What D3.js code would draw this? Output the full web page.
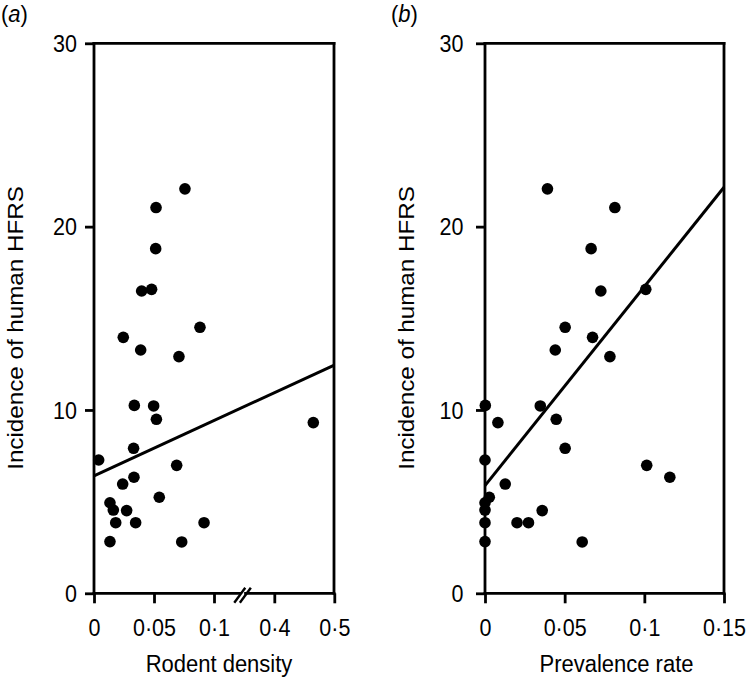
<!DOCTYPE html>
<html>
<head>
<meta charset="utf-8">
<script src="https://cdn.jsdelivr.net/npm/d3@7"></script>
<style>
  html, body { margin: 0; padding: 0; background: #fff; }
  svg { display: block; }
  text { font-family: "Liberation Sans", Arial, Helvetica, sans-serif; fill: #000; }
</style>
</head>
<body>
<script>
// ---------------- data ----------------
const yTicks = [0, 10, 20, 30];
const yTickLabels = ["0", "10", "20", "30"];

const xTicksA = [0, 0.05, 0.1, 0.4, 0.5];
const xTickLabelsA = ["0", "0·05", "0·1", "0·4", "0·5"];
const xTicksB = [0, 0.05, 0.1, 0.15];
const xTickLabelsB = ["0", "0·05", "0·1", "0·15"];

// incidence of human HFRS (same sites in both panels)
const incidence = [22.06, 21.04, 18.8, 16.49, 16.58, 14.51, 13.96, 13.27, 12.91,
  10.25, 10.22, 9.49, 9.31, 7.91, 7.27, 6.98, 6.33, 5.96, 5.24, 4.94, 4.54, 4.51,
  3.85, 3.85, 3.85, 2.82, 2.80];
// panel (a): rodent density
const rodentDensity = [0.0758, 0.0517, 0.0514, 0.0397, 0.048, 0.0883, 0.0244, 0.0389, 0.0708,
  0.0336, 0.0497, 0.052, 0.465, 0.033, 0.0039, 0.0689, 0.0333, 0.0239, 0.0544, 0.0133, 0.0161, 0.0272,
  0.0181, 0.0347, 0.0917, 0.0133, 0.0731];
// panel (b): prevalence rate
const prevalence = [0.0392, 0.0815, 0.0666, 0.0727, 0.1009, 0.0503, 0.0675, 0.0441, 0.0784,
  0.0002, 0.0347, 0.0447, 0.0081, 0.0503, 0.0, 0.1015, 0.116, 0.0127, 0.0027, 0.0, 0.0, 0.0359,
  0.0, 0.0201, 0.0273, 0.0, 0.061];

// fitted regression lines (end points)
const fitAx = [0, 0.5];
const fitAy = [6.4, 12.45];
const fitBx = [0, 0.15];
const fitBy = [5.87, 22.15];

const panelLabels = ["a", "b"];
const xTitles = ["Rodent density", "Prevalence rate"];
const yTitle = "Incidence of human HFRS";

// ---------------- layout ----------------
const W = 748, H = 678;
const plotTop = 43.3, plotBottom = 593.3;
const svg = d3.select("body").append("svg").attr("width", W).attr("height", H);

const y = d3.scaleLinear().domain([0, 30]).range([plotBottom, plotTop]);

const panels = [
  {
    left: 94, right: 334,
    x: d3.scaleLinear().domain([0, 0.1, 0.4, 0.5]).range([94, 214, 274.3, 334.3]),
    ticks: xTicksA, tickLabels: xTickLabelsA,
    xs: rodentDensity, fx: fitAx, fy: fitAy,
    label: panelLabels[0], labelX: 1, xTitle: xTitles[0], xTitleX: 219,
    yLabelOff: 17, yTitleX: 23, broken: true
  },
  {
    left: 485, right: 724,
    x: d3.scaleLinear().domain([0, 0.15]).range([485, 724]),
    ticks: xTicksB, tickLabels: xTickLabelsB,
    xs: prevalence, fx: fitBx, fy: fitBy,
    label: panelLabels[1], labelX: 391, xTitle: xTitles[1], xTitleX: 616.5,
    yLabelOff: 21.5, yTitleX: 414, broken: false
  }
];

const SW = 2.8;

panels.forEach(p => {
  const g = svg.append("g");

  // y axis (ticks + labels)
  const yAxis = d3.axisLeft(y).tickValues(yTicks)
    .tickFormat((d, i) => yTickLabels[i]).tickSize(9).tickPadding(0);
  const ya = g.append("g").attr("transform", `translate(${p.left},0)`).call(yAxis);
  ya.select(".domain").remove();
  ya.selectAll(".tick line").attr("stroke", "#000").attr("stroke-width", SW);
  ya.selectAll(".tick text")
    .attr("x", null).attr("dy", null)
    .attr("font-size", 21.5)
    .attr("text-anchor", "end")
    .attr("transform", `translate(${-p.yLabelOff},8.3) scale(1,1.1)`);

  // x axis (ticks + labels)
  const xAxis = d3.axisBottom(p.x).tickValues(p.ticks)
    .tickFormat((d, i) => p.tickLabels[i]).tickSize(10).tickPadding(0);
  const xa = g.append("g").attr("transform", `translate(0,${plotBottom})`).call(xAxis);
  xa.select(".domain").remove();
  xa.selectAll(".tick line").attr("stroke", "#000").attr("stroke-width", SW);
  xa.selectAll(".tick text")
    .attr("y", null).attr("dy", null)
    .attr("font-size", 21.5)
    .attr("text-anchor", "middle")
    .attr("transform", `translate(0,42.7) scale(1,1.1)`);
  svg.selectAll(".tick text").attr("fill", "#000");

  // frame
  const frame = g.append("g").attr("stroke", "#000").attr("stroke-width", SW)
    .attr("fill", "none").attr("stroke-linecap", "square");
  frame.append("line").attr("x1", p.left).attr("y1", plotTop).attr("x2", p.left).attr("y2", plotBottom);
  frame.append("line").attr("x1", p.left).attr("y1", plotTop).attr("x2", p.right).attr("y2", plotTop);
  frame.append("line").attr("x1", p.right).attr("y1", plotTop).attr("x2", p.right).attr("y2", plotBottom);
  if (p.broken) {
    const bc = (p.x(0.1) + p.x(0.4)) / 2 - 1.6;
    frame.append("line").attr("x1", p.left).attr("y1", plotBottom).attr("x2", bc - 3).attr("y2", plotBottom);
    frame.append("line").attr("x1", bc + 3).attr("y1", plotBottom).attr("x2", p.right).attr("y2", plotBottom);
    [-2.8, 2.8].forEach(o => {
      frame.append("line").attr("stroke-linecap", "butt").attr("stroke-width", 2.4)
        .attr("x1", bc + o - 5.5).attr("y1", plotBottom + 9.5)
        .attr("x2", bc + o + 5.5).attr("y2", plotBottom - 5.5);
    });
  } else {
    frame.append("line").attr("x1", p.left).attr("y1", plotBottom).attr("x2", p.right).attr("y2", plotBottom);
  }

  // regression line
  const fit = p.fx.map((v, i) => [v, p.fy[i]]);
  g.append("path").datum(fit)
    .attr("d", d3.line().x(d => p.x(d[0])).y(d => y(d[1])))
    .attr("stroke", "#000").attr("stroke-width", 3).attr("fill", "none");

  // points
  const pts = p.xs.map((v, i) => [v, incidence[i]]);
  g.append("g").selectAll("circle").data(pts).join("circle")
    .attr("cx", d => p.x(d[0])).attr("cy", d => y(d[1]))
    .attr("r", 5.8).attr("fill", "#000");

  // panel label
  const pl = svg.append("text").attr("font-size", 22)
    .attr("transform", `translate(${p.labelX},22) scale(1,1.08)`);
  pl.append("tspan").text("(");
  pl.append("tspan").attr("font-style", "italic").text(p.label);
  pl.append("tspan").text(")");

  // x title
  svg.append("text").attr("font-size", 22).attr("text-anchor", "middle")
    .attr("transform", `translate(${p.xTitleX},672) scale(1,1.07)`)
    .text(p.xTitle);

  // y title
  svg.append("text").attr("font-size", 22).attr("text-anchor", "middle")
    .attr("transform", `translate(${p.yTitleX},328) rotate(-90) scale(1.1,1)`)
    .text(yTitle);
});
</script>
</body>
</html>
